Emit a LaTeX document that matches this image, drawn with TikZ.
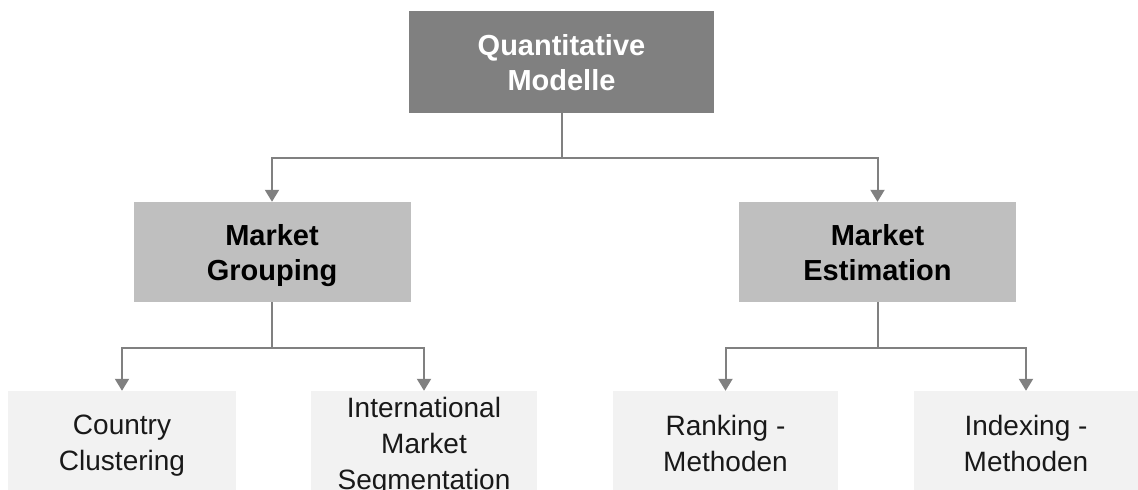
\documentclass[tikz,border=0pt]{standalone}
\usepackage{fontspec}
\setmainfont{Liberation Sans}
\usetikzlibrary{arrows.meta}

\tikzset{
  topbox/.style={fill=black!50, text=white, font=\fontsize{29}{35}\selectfont\bfseries,
    align=center, minimum width=305pt, minimum height=102pt, inner sep=0pt, text depth=0pt},
  midbox/.style={fill=black!25, text=black, font=\fontsize{29}{35}\selectfont\bfseries,
    align=center, minimum width=277pt, minimum height=100pt, inner sep=0pt, text depth=0pt},
  leafbox/.style={fill=black!5, text=black!90, font=\fontsize{28}{36}\selectfont,
    align=center, minimum width=226pt, minimum height=104pt, inner sep=0pt, text depth=0pt},
  link/.style={draw=black!50, line width=2pt, -{Triangle[width=14pt,length=12pt]}}
}

\begin{document}
\begin{tikzpicture}[x=1pt,y=1pt]
\useasboundingbox (0,0) rectangle (1138,490);
\clip (0,0) rectangle (1138,490);

%% boxes
\node[topbox] (quant) at (561.5,428) {Quantitative\\Modelle};
\node[midbox] (group) at (272,238) {Market\\Grouping};
\node[midbox] (estim) at (877.5,238) {Market\\Estimation};
\node[leafbox, minimum width=228pt] (clust) at (122,47) {Country\\Clustering};
\node[leafbox] (segm) at (424,47) {International\\Market\\Segmentation};
\node[leafbox, minimum width=225pt] (rank) at (725.5,47) {Ranking -\\Methoden};
\node[leafbox, minimum width=225pt] (index) at (1026,47) {Indexing -\\Methoden};

%%% links
\draw[link] (quant.south) -- ++(0,-45) -| (group.north);
\draw[link] (quant.south) -- ++(0,-45) -| (estim.north);
\draw[link] (group.south) -- ++(0,-46) -| (clust.north);
\draw[link] (group.south) -- ++(0,-46) -| (segm.north);
\draw[link] (estim.south) -- ++(0,-46) -| (rank.north);
\draw[link] (estim.south) -- ++(0,-46) -| (index.north);

\end{tikzpicture}
\end{document}
